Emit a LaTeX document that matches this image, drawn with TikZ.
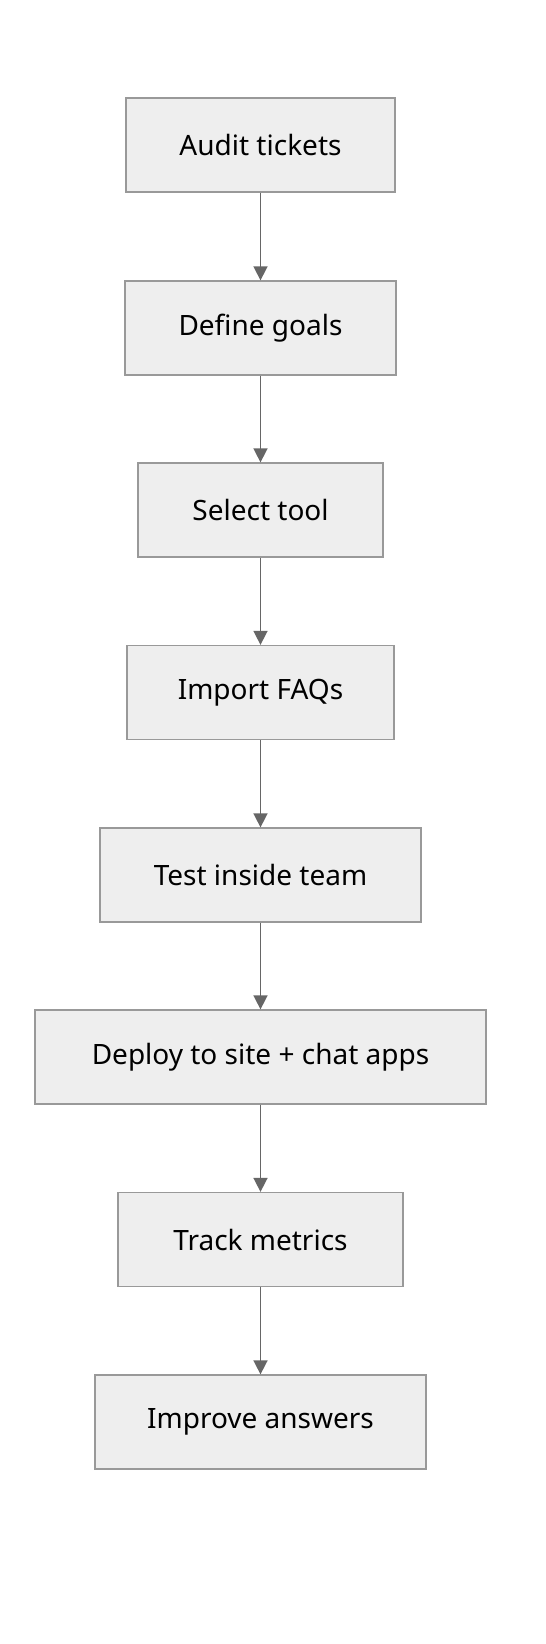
\documentclass[tikz,border=0pt]{standalone}
\usepackage{fontspec}
\setmainfont{Noto Sans}
\usetikzlibrary{arrows.meta}
\definecolor{boxfill}{HTML}{EEEEEE}
\definecolor{boxline}{HTML}{999999}
\definecolor{arrowc}{HTML}{666666}
\begin{document}
\begin{tikzpicture}[x=1pt,y=-1pt,
  stepbox/.style={draw=boxline,fill=boxfill,line width=1.3pt,minimum height=94pt,inner sep=0pt,font=\fontsize{28}{33}\selectfont},
  flow/.style={draw=arrowc,line width=1.6pt,-{Triangle[length=14pt,width=14pt]}}]
\useasboundingbox (0,0) rectangle (546,1644);
\fill[white] (0,0) rectangle (546,1644);
\node[stepbox,minimum width=269pt] (n1) at (260.5,145) {Audit tickets};
\node[stepbox,minimum width=271pt] (n2) at (260.5,328) {Define goals};
\node[stepbox,minimum width=245pt] (n3) at (260.5,510) {Select tool};
\node[stepbox,minimum width=267pt] (n4) at (260.5,692.5) {Import FAQs};
\node[stepbox,minimum width=321pt] (n5) at (260.5,875) {Test inside team};
\node[stepbox,minimum width=451pt] (n6) at (260.5,1057) {Deploy to site + chat apps};
\node[stepbox,minimum width=285pt] (n7) at (260.5,1239.5) {Track metrics};
\node[stepbox,minimum width=331pt] (n8) at (260.5,1422) {Improve answers};
\foreach \a/\b in {n1/n2,n2/n3,n3/n4,n4/n5,n5/n6,n6/n7,n7/n8}
  \draw[flow] (\a.south) -- (\b.north);
\end{tikzpicture}
\end{document}
